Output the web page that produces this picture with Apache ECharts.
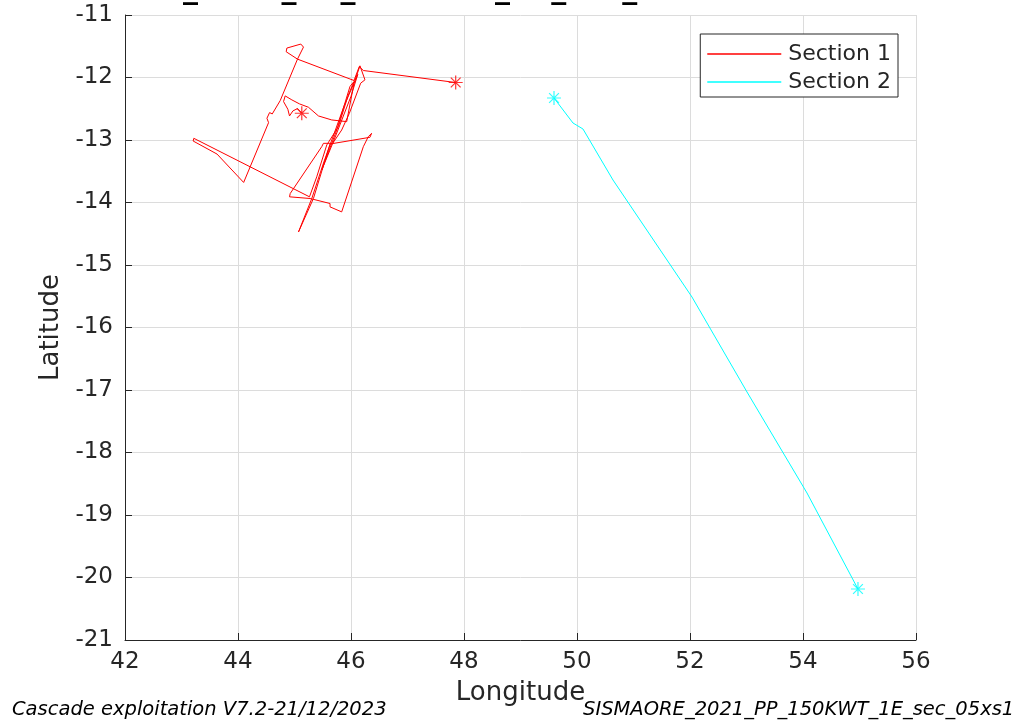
<!DOCTYPE html>
<html>
<head>
<meta charset="utf-8">
<script src="https://cdn.jsdelivr.net/npm/echarts@6/dist/echarts.min.js"></script>
<style>
html,body{margin:0;padding:0;background:#fff;}
#chart{width:1030px;height:720px;}
</style>
</head>
<body>
<div id="chart"></div>
<script>
// ---- Data ----
const titleText = 'SISMAORE_2021_PP_150KWT_1E_sec_05xs1';
const footerLeft = 'Cascade exploitation V7.2-21/12/2023';
const footerRight = 'SISMAORE_2021_PP_150KWT_1E_sec_05xs1';
const seriesNames = ['Section 1', 'Section 2'];

const section1Lon = [45.129,45.053,44.971,44.912,44.882,44.806,44.835,44.953,45.088,45.247,45.424,45.659,45.924,46.053,46.159,46.247,46.171,45.971,45.835,45.676,45.512,45.482,44.924,44.912,45.276,45.629,45.629,45.835,46.218,46.306,46.365,46.335,45.629,45.335,45.071,45.306,45.520,45.880,46.120,46.000,45.700,45.482,45.747,45.982,46.053,45.953,45.776,45.571,45.394,45.265,43.218,43.206,43.629,44.100,44.541,44.512,44.559,44.606,44.747,45.053,44.853,44.865,45.112,45.159,45.053,46.053,46.147,46.218,47.853];
const section1Lat = [-12.572,-12.497,-12.535,-12.615,-12.508,-12.385,-12.294,-12.358,-12.422,-12.476,-12.615,-12.679,-12.706,-12.091,-11.813,-12.037,-12.091,-12.572,-12.840,-13.053,-13.053,-13.107,-13.856,-13.909,-13.936,-14.016,-14.070,-14.150,-13.107,-12.947,-12.893,-12.957,-13.064,-13.936,-14.471,-13.936,-13.350,-12.450,-11.950,-12.300,-13.000,-13.481,-12.840,-12.144,-12.064,-12.278,-12.786,-13.080,-13.588,-13.909,-12.973,-13.016,-13.225,-13.679,-12.722,-12.652,-12.561,-12.583,-12.369,-11.706,-11.588,-11.529,-11.465,-11.513,-11.706,-12.048,-11.824,-11.888,-12.080];

const section2Lon = [49.593,49.929,50.106,50.637,52.035,53.009,54.071,54.973];
const section2Lat = [-12.328,-12.728,-12.824,-13.640,-15.512,-17.032,-18.648,-20.184];

const xMin = 42, xMax = 56, xStep = 2;
const yMin = -21, yMax = -11, yStep = 1;

// ---- Build ----
function pairs(lon, lat){ return lon.map((v,i)=>[v, lat[i]]); }
function ends(lon, lat){ return [[lon[0], lat[0]], [lon[lon.length-1], lat[lat.length-1]]]; }

const s1 = pairs(section1Lon, section1Lat);
const s2 = pairs(section2Lon, section2Lat);
const colors = ['#ff0000', '#00ffff'];
const asterisk = 'path://M5,0L5,10M0,5L10,5M1.5,1.5L8.5,8.5M1.5,8.5L8.5,1.5';
const txt = '#262626';
const ff = 'DejaVu Sans';

const chart = echarts.init(document.getElementById('chart'), null, {renderer:'canvas'});
chart.setOption({
  animation: false,
  backgroundColor: '#ffffff',
  grid: {left:125, right:114, top:15, bottom:80, containLabel:false},
  xAxis: {
    type:'value', min:xMin, max:xMax, interval:xStep,
    name:'Longitude', nameLocation:'middle', nameGap:40,
    nameTextStyle:{fontFamily:ff, fontSize:26, color:txt},
    axisLine:{show:true, onZero:false, lineStyle:{color:txt, width:1}},
    axisTick:{show:true, inside:true, length:7, lineStyle:{color:txt}},
    axisLabel:{fontFamily:ff, fontSize:23, color:txt, margin:11},
    splitLine:{show:true, lineStyle:{color:'#dcdcdc', width:1}}
  },
  yAxis: {
    type:'value', min:yMin, max:yMax, interval:yStep,
    name:'Latitude', nameLocation:'middle', nameGap:56,
    nameTextStyle:{fontFamily:ff, fontSize:26, color:txt},
    axisLine:{show:true, onZero:false, lineStyle:{color:txt, width:1}},
    axisTick:{show:true, inside:true, length:7, lineStyle:{color:txt}},
    axisLabel:{fontFamily:ff, fontSize:23, color:txt, margin:12},
    splitLine:{show:true, lineStyle:{color:'#dcdcdc', width:1}}
  },
  legend: {
    data: seriesNames.map(n => ({name:n, icon:'rect'})),
    orient:'vertical', right:132, top:34,
    padding:[9,7,4,7], itemGap:6, itemWidth:74, itemHeight:1.5,
    backgroundColor:'#ffffff', borderColor:txt, borderWidth:1, borderRadius:0,
    textStyle:{fontFamily:ff, fontSize:22, color:txt, padding:[0,0,0,2]},
    selectedMode:false
  },
  series: [
    {name:seriesNames[0], type:'line', data:s1, symbol:'none', showSymbol:false,
     lineStyle:{color:colors[0], width:1}, itemStyle:{color:colors[0]}, silent:true, z:3},
    {name:seriesNames[1], type:'line', data:s2, symbol:'none', showSymbol:false,
     lineStyle:{color:colors[1], width:1}, itemStyle:{color:colors[1]}, silent:true, z:3},
    {name:'ends1', type:'scatter', data:ends(section1Lon, section1Lat), symbol:asterisk, symbolSize:14,
     itemStyle:{color:'rgba(0,0,0,0)', borderColor:colors[0], borderWidth:1.2}, silent:true, z:4},
    {name:'ends2', type:'scatter', data:ends(section2Lon, section2Lat), symbol:asterisk, symbolSize:14,
     itemStyle:{color:'rgba(0,0,0,0)', borderColor:colors[1], borderWidth:1.2}, silent:true, z:4}
  ],
  graphic: [
    {type:'text', x:6.5, y:-10, silent:true,
     style:{text:titleText, fontFamily:ff, fontSize:30, fontWeight:'bold', fill:'#000000', verticalAlign:'middle', align:'left'}},
    {type:'text', x:12, y:710, silent:true,
     style:{text:footerLeft, fontFamily:ff, fontSize:19.5, fontStyle:'italic', fill:'#000000', verticalAlign:'middle', align:'left'}},
    {type:'text', x:583, y:710, silent:true,
     style:{text:footerRight, fontFamily:ff, fontSize:19.5, fontStyle:'italic', fill:'#000000', verticalAlign:'middle', align:'left'}}
  ]
});
</script>
</body>
</html>
